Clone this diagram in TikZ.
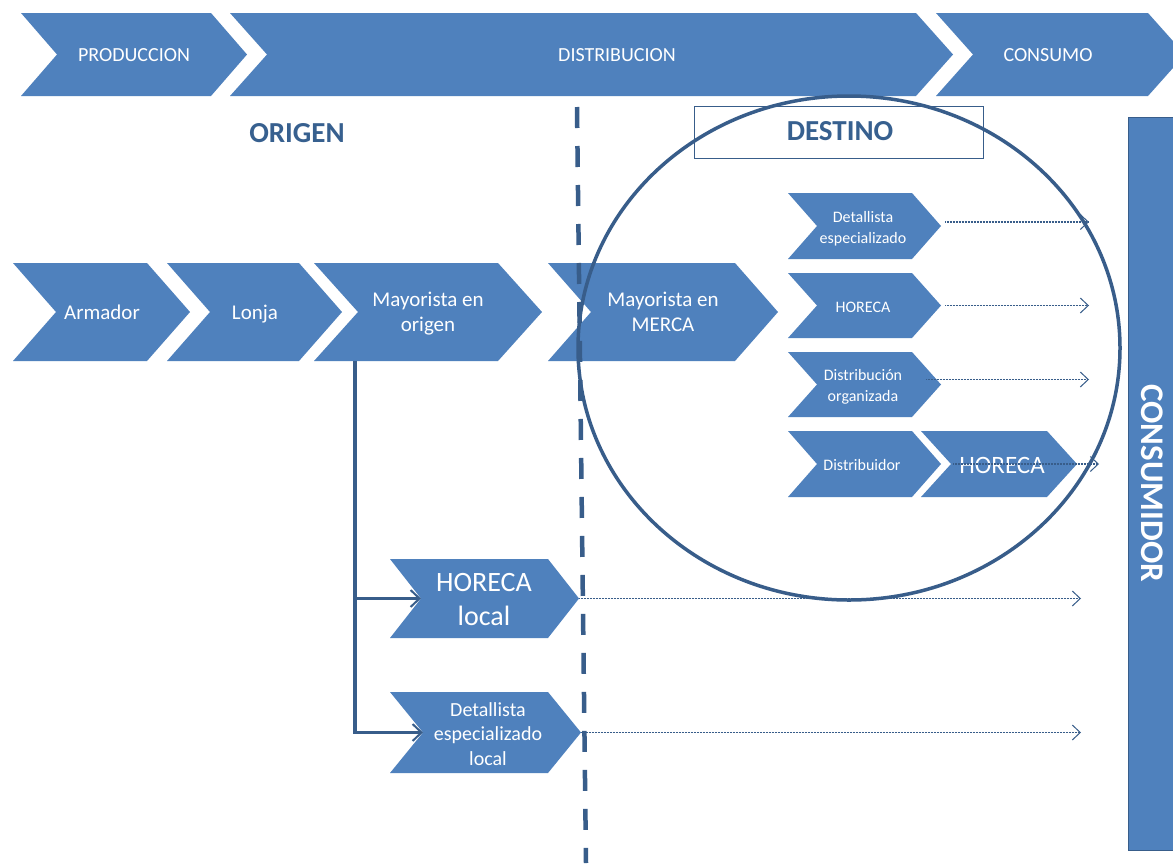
\documentclass[tikz,border=0pt]{standalone}
\usepackage{fontspec}
\setmainfont{Carlito}
\usetikzlibrary{arrows.meta}
\definecolor{cfill}{HTML}{4F81BD}
\definecolor{cdark}{HTML}{385D8A}
\definecolor{ctitle}{HTML}{37608F}
\newcommand\myfs[2]{\fontsize{#1}{#2}\selectfont}
\newcommand\chev[9]{%
  \fill[chevfill] (#2,#4) -- (#3,#4) -- ({#3+#6},{(#4+#5)/2}) -- (#3,#5) -- (#2,#5) -- ({#2+#6},{(#4+#5)/2}) -- cycle;
  \coordinate (#1-tip) at ({#3+#6},{(#4+#5)/2});
  \coordinate (#1-notch) at ({#2+#6},{(#4+#5)/2});
  \node[chevtext, font=\myfs#8] (#1) at (#7) {\strut #9\strut};
}
\begin{document}
\begin{tikzpicture}[x=1pt,y=-1pt,
  chevfill/.style={fill=cfill},
  chevtext/.style={text=white, align=center, inner sep=0pt, yshift=-3pt},
  title/.style={text=ctitle, font=\bfseries\myfs{29}{34}, inner sep=0pt},
  dotarr/.style={cdark, line width=1.1pt, dash pattern=on 1pt off 0.5pt, -{Straight Barb[length=8pt,width=15pt,line width=1pt]}},
  branch/.style={cdark, line width=2.5pt, -{Straight Barb[length=9pt,width=17pt,line width=2pt]}},
  vline/.style={cdark, line width=3.5pt},
  sepline/.style={cdark, line width=4.5pt, dash pattern=on 21pt off 18pt},
]
\useasboundingbox (0,0) rectangle (1173,863);
\fill[white] (0,0) rectangle (1173,863);

% top stage chevrons
\chev{prod}{21}{211}{13}{96}{36}{134,54}{{20}{24}}{PRODUCCION}
\chev{dist}{230}{916}{13}{96}{37}{617,54}{{20}{24}}{DISTRIBUCION}
\chev{cons}{936}{1148}{13}{96}{37}{1048,54}{{20}{24}}{CONSUMO}

% titles
\node[title] (origen) at (297,133) {ORIGEN};
\draw[cdark, line width=1pt] (694,106) rectangle (983,158);
\node[title] (destino) at (840,131) {DESTINO};

% consumidor bar
\filldraw[fill=cfill, draw=cdark, line width=1pt] (1128,117) rectangle (1180,850);
\node[rotate=-90, text=white, font=\bfseries\myfs{33}{38}, inner sep=0pt] (consumidor) at (1152,483) {CONSUMIDOR};

% main chain
\chev{arm}{13}{147}{263}{361}{43}{102,311}{{21}{25.5}}{Armador}
\chev{lonja}{167}{299}{263}{361}{43}{255,311}{{21}{25.5}}{Lonja}
\chev{mo}{314}{498}{263}{361}{44}{428,311}{{21}{25.5}}{Mayorista en\\origen}
\chev{mm}{548}{735}{263}{361}{43}{663,311}{{21}{25.5}}{Mayorista en\\MERCA}

% destination channels
\chev{det}{788}{912}{193}{259}{29}{863,226}{{16}{21}}{Detallista\\especializado}
\chev{hor}{788}{912}{273}{338}{29}{863,305}{{16}{21}}{HORECA}
\chev{dorg}{788}{912}{352}{417}{29}{863,384}{{16}{21}}{Distribución\\organizada}
\chev{distr}{788}{912}{431}{497}{29}{862,463}{{16}{21}}{Distribuidor}
\chev{hor2}{921}{1047}{431}{497}{30}{1002,464}{{25}{30}}{HORECA}

% local channels
\chev{hl}{390}{548}{559}{638}{31}{484,599}{{28}{34}}{HORECA\\local}
\chev{dl}{390}{548}{692}{773}{33}{488,733}{{20}{24.5}}{Detallista\\especializado\\local}

% branches from Mayorista en origen
\coordinate (vtop) at (355,361);
\coordinate (vbot) at (355,734);
\draw[vline] (vtop) -- (vbot);
\draw[branch] (vtop |- hl-notch) -- (hl-notch);
\draw[branch] (vtop |- dl-notch) -- (dl-notch);

% dotted arrows to consumer
\coordinate (endA) at (1089,0);
\coordinate (endB) at (1099,0);
\coordinate (endC) at (1081,0);
\draw[dotarr] ([xshift=4pt,yshift=4pt]det-tip) -- ([yshift=4pt]det-tip -| endA);
\draw[dotarr] ([xshift=4pt]hor-tip) -- (hor-tip -| endA);
\draw[dotarr] ([xshift=-15pt,yshift=5pt]dorg-tip) -- ([yshift=5pt]dorg-tip -| endA);
\draw[dotarr] ([xshift=-124pt]hor2-tip) -- (hor2-tip -| endB);
\draw[dotarr] (hl-tip) -- (hl-tip -| endC);
\draw[dotarr] (dl-tip) -- (dl-tip -| endC);

% origin / destination separator
\coordinate (dtop) at (577,107);
\coordinate (dbot) at (586,863);
\draw[sepline] (dtop) -- (dbot);

% destination circle
\draw[cdark, line width=3.5pt] (849,348) ellipse [x radius=271, y radius=252];
\end{tikzpicture}
\end{document}
